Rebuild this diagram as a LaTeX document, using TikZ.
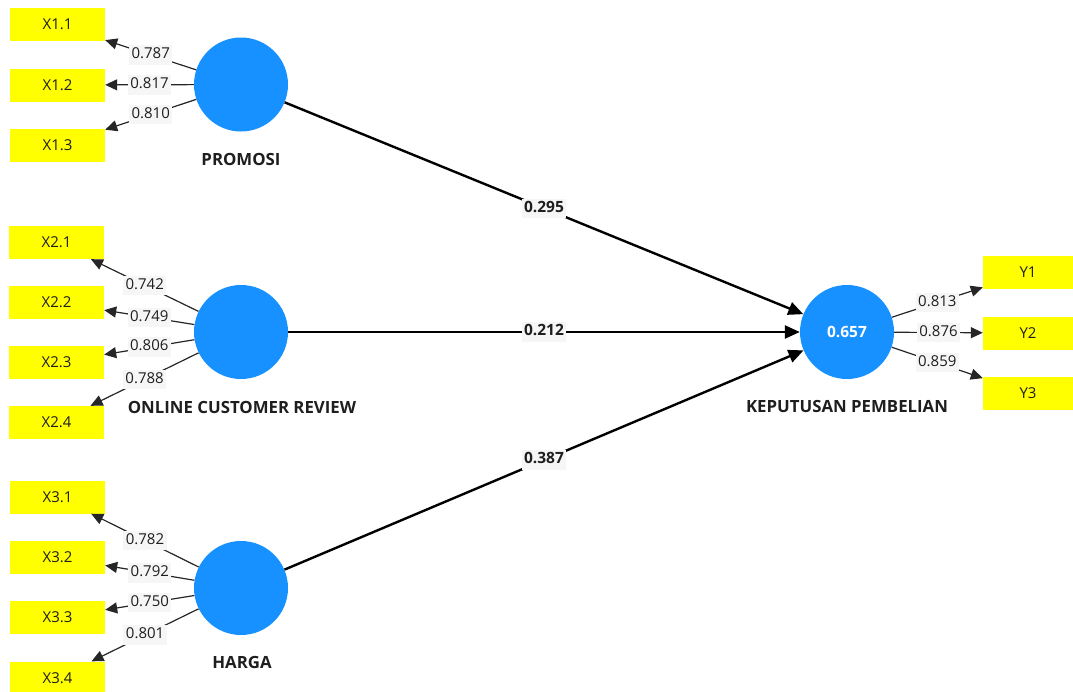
\documentclass[tikz,border=0pt]{standalone}
\usepackage{fontspec}
\setmainfont{Open Sans}
\usetikzlibrary{arrows.meta}
\definecolor{lvblue}{RGB}{22,145,255}
\definecolor{indyel}{RGB}{255,255,0}
\definecolor{lblbg}{RGB}{246,246,246}
\definecolor{txt}{RGB}{30,30,30}
\begin{document}
\begin{tikzpicture}[x=1pt,y=-1pt,
  ind/.style={fill=indyel, minimum width=95pt, minimum height=33pt, inner sep=0pt, text=txt, font=\fontsize{15}{17}\selectfont},
  indy/.style={ind, minimum width=90pt},
  lv/.style={circle, fill=lvblue, minimum size=94pt, inner sep=0pt},
  lvname/.style={font=\fontsize{16.8}{18}\selectfont\bfseries, text=txt},
  load/.style={draw=black!85, line width=1.2pt, -{Triangle[length=12pt,width=11pt]}},
  lab/.style={fill=lblbg, inner sep=2.5pt, text=txt, font=\fontsize{15}{17}\selectfont, text height=11pt, text depth=3.5pt},
  strpath/.style={line width=2.4pt, -{Triangle[length=15pt,width=13pt]}},
  plab/.style={fill=lblbg, inner sep=2.5pt, text=txt, font=\fontsize{15.5}{17}\selectfont\bfseries, text height=11pt, text depth=3.5pt}]
\useasboundingbox (0,0) rectangle (1073,691);
\clip (0,0) rectangle (1073,691);
% latent variables
\node[lv] (P) at (241,84.5) {};
\node[lv] (O) at (241,332) {};
\node[lv] (H) at (241,588) {};
\node[lv] (K) at (847,332) {\textcolor{white}{\fontsize{15.5}{17}\selectfont\bfseries 0.657}};
\node[lvname] (Pn) at (241,159) {PROMOSI};
\node[lvname] (On) at (242,407) {ONLINE CUSTOMER REVIEW};
\node[lvname] (Hn) at (242,662) {HARGA};
\node[lvname] (Kn) at (847,406) {KEPUTUSAN PEMBELIAN};
% indicators
\node[ind] (x11) at (57.5,24.5) {X1.1};
\node[ind] (x12) at (57.5,85) {X1.2};
\node[ind] (x13) at (57.5,145.5) {X1.3};
\node[ind] (x21) at (56.5,242.5) {X2.1};
\node[ind] (x22) at (56.5,302.5) {X2.2};
\node[ind] (x23) at (56.5,362.5) {X2.3};
\node[ind] (x24) at (56.5,422.5) {X2.4};
\node[ind] (x31) at (57.5,497) {X3.1};
\node[ind] (x32) at (57.5,557.5) {X3.2};
\node[ind] (x33) at (57.5,617.5) {X3.3};
\node[ind] (x34) at (57.5,678) {X3.4};
\node[indy] (y1) at (1028,272.5) {Y1};
\node[indy] (y2) at (1028,333) {Y2};
\node[indy] (y3) at (1028,393.5) {Y3};
% outer loadings
\draw[load] (P) -- node[lab]{0.787} (x11);
\draw[load] (P) -- node[lab]{0.817} (x12);
\draw[load] (P) -- node[lab]{0.810} (x13);
\draw[load] (O) -- node[lab]{0.742} (x21);
\draw[load] (O) -- node[lab]{0.749} (x22);
\draw[load] (O) -- node[lab]{0.806} (x23);
\draw[load] (O) -- node[lab]{0.788} (x24);
\draw[load] (H) -- node[lab]{0.782} (x31);
\draw[load] (H) -- node[lab]{0.792} (x32);
\draw[load] (H) -- node[lab]{0.750} (x33);
\draw[load] (H) -- node[lab]{0.801} (x34);
\draw[load] (K) -- node[lab]{0.813} (y1);
\draw[load] (K) -- node[lab]{0.876} (y2);
\draw[load] (K) -- node[lab]{0.859} (y3);
% path coefficients
\draw[strpath] (P) -- node[plab]{0.295} (K);
\draw[strpath] (O) -- node[plab]{0.212} (K);
\draw[strpath] (H) -- node[plab]{0.387} (K);
\end{tikzpicture}
\end{document}
